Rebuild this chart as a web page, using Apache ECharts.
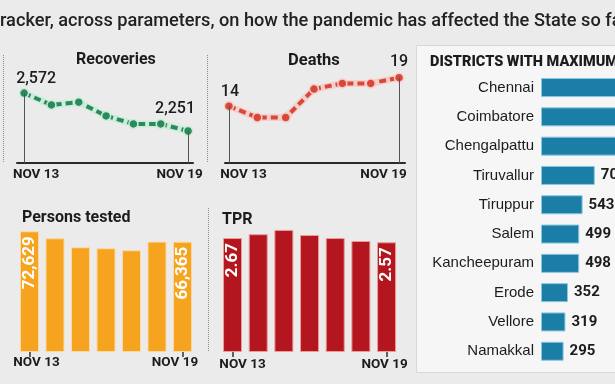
<!DOCTYPE html>
<html><head><meta charset="utf-8">
<script src="https://cdn.jsdelivr.net/npm/echarts@6/dist/echarts.min.js"></script>
<style>html,body{margin:0;padding:0;background:#ebebeb;overflow:hidden}#c{width:615px;height:384px;}</style>
</head><body><div id="c"></div>
<script>
// ---- data ----
const categories = ['NOV 13', 'NOV 14', 'NOV 15', 'NOV 16', 'NOV 17', 'NOV 18', 'NOV 19'];
const recoveries = [2572, 2472, 2495, 2379, 2311, 2311, 2251];
const deaths = [14, 12, 12, 17, 18, 18, 19];
const personsTested = [72629, 68400, 63000, 62400, 61200, 66400, 66365];
const tpr = [2.67, 2.76, 2.86, 2.74, 2.67, 2.60, 2.57];
const districts = ['Chennai', 'Coimbatore', 'Chengalpattu', 'Tiruvallur', 'Tiruppur', 'Salem', 'Kancheepuram', 'Erode', 'Vellore', 'Namakkal'];
const districtValues = [3900, 1050, 1000, 702, 543, 499, 498, 352, 319, 295];
const headerText = 'racker, across parameters, on how the pandemic has affected the State so far';
const titles = { rec: 'Recoveries', dea: 'Deaths', tst: 'Persons tested', tpr: 'TPR', dis: 'DISTRICTS WITH MAXIMUM CASES' };

// ---- styling ----
const NARROW = "Roboto, 'Liberation Sans', sans-serif";
const SANS = "'Liberation Sans', Arial, sans-serif";
const INK = '#1c1c1c';
const last = categories.length - 1;
const fmt = v => v.toLocaleString('en-US');

const chart = echarts.init(document.getElementById('c'), null, { renderer: 'canvas' });

function lineXAxis(grid, min, max, padL, padR) {
  return {
    type: 'value', gridIndex: grid, min: min, max: max,
    splitLine: { show: false }, axisTick: { show: false },
    axisLine: { show: true, onZero: false, lineStyle: { color: '#2a2a2a', width: 2 } },
    axisLabel: {
      customValues: [0, last], margin: 5,
      formatter: v => (v === 0 ? '{a|' + categories[v] + '}' : '{b|' + categories[v] + '}'),
      rich: {
        a: { fontFamily: NARROW, fontWeight: 'bold', fontSize: 13.5, color: INK, padding: [0, 0, 0, padL] },
        b: { fontFamily: NARROW, fontWeight: 'bold', fontSize: 13.5, color: INK, padding: [0, padR, 0, 0] }
      }
    }
  };
}

function lineSeries(values, idx, color, halo, yMin, lab) {
  return [{
    type: 'line', xAxisIndex: idx, yAxisIndex: idx, silent: true, z: 2,
    data: values.map((v, i) => [i, v]),
    symbol: 'none',
    lineStyle: { color: halo, width: 7, opacity: 0.9 }
  }, {
    type: 'line', xAxisIndex: idx, yAxisIndex: idx, silent: true, z: 3,
    data: values.map((v, i) => ({
      value: [i, v],
      label: (i === 0 || i === last) ? {
        show: true, position: 'top', fontFamily: NARROW, fontWeight: 500, fontSize: 16, color: INK,
        distance: i === 0 ? lab.d0 : lab.d1, offset: i === 0 ? [lab.o0, 0] : [lab.o1, 0],
        formatter: p => fmt(p.value[1])
      } : { show: false }
    })),
    symbol: 'circle', symbolSize: 9,
    itemStyle: { color: color, borderColor: halo, borderWidth: 1.5 },
    lineStyle: { color: color, width: 4, type: [7, 4] },
    markLine: {
      silent: true, symbol: 'none', label: { show: false },
      lineStyle: { color: '#555', width: 1, type: 'solid' },
      data: [
        [{ coord: [0, values[0]] }, { coord: [0, yMin] }],
        [{ coord: [last, values[last]] }, { coord: [last, yMin] }]
      ]
    }
  }];
}

function barXAxis(grid, padL, padR, margin) {
  return {
    type: 'category', gridIndex: grid, data: categories, boundaryGap: true,
    axisLine: { show: false },
    axisTick: { show: true, alignWithLabel: true, interval: i => i === 0 || i === last, length: 5, lineStyle: { color: '#333', width: 1.5 } },
    axisLabel: {
      interval: i => i === 0 || i === last, margin: margin,
      formatter: (v, i) => (i === 0 ? '{a|' + v + '}' : '{b|' + v + '}'),
      rich: {
        a: { fontFamily: NARROW, fontWeight: 'bold', fontSize: 13.5, color: INK, padding: [0, 0, 0, padL] },
        b: { fontFamily: NARROW, fontWeight: 'bold', fontSize: 13.5, color: INK, padding: [0, padR, 0, 0] }
      }
    }
  };
}

function barSeries(values, idx, color, edge, fmtFn) {
  return {
    type: 'bar', xAxisIndex: idx, yAxisIndex: idx, barWidth: 19, silent: true,
    itemStyle: { color: color, borderColor: edge, borderWidth: 1 },
    data: values.map((v, i) => ({
      value: v,
      label: (i === 0 || i === last) ? {
        show: true, position: 'insideTop', distance: 5, rotate: 90, align: 'right', verticalAlign: 'middle',
        fontFamily: NARROW, fontWeight: 'bold', fontSize: 17, color: '#ffffff',
        formatter: p => fmtFn(p.value)
      } : { show: false }
    }))
  };
}

const titleStyle = (size, w) => ({ fontFamily: NARROW, fontWeight: w || 'bold', fontSize: size, color: INK });
const grids = [
  { left: 17, top: 78, width: 176, height: 85 },
  { left: 225, top: 72, width: 180, height: 91 },
  { left: 16.75, top: 219, width: 178.5, height: 133 },
  { left: 219.7, top: 215.4, width: 179.7, height: 136.6 },
  { left: 541, top: 72.9, width: 400, height: 293 }
].map(g => Object.assign(g, { outerBoundsMode: 'none', containLabel: false }));

const option = {
  backgroundColor: '#ebebeb',
  animation: false,
  title: [
    { text: headerText, left: 0, top: 12, padding: 0, textStyle: { fontFamily: NARROW, fontWeight: 500, fontSize: 18.2, color: '#222' } },
    { text: titles.rec, left: 76, top: 52, padding: 0, textStyle: titleStyle(16) },
    { text: titles.dea, left: 288, top: 52, padding: 0, textStyle: titleStyle(16.5) },
    { text: titles.tst, left: 22, top: 210, padding: 0, textStyle: titleStyle(16) },
    { text: titles.tpr, left: 222, top: 212, padding: 0, textStyle: titleStyle(16) },
    { text: titles.dis, left: 430, top: 55, padding: 0, textStyle: titleStyle(14.5, 900) }
  ],
  graphic: [
    { type: 'rect', z: -10, shape: { x: 416.5, y: 45.5, width: 205, height: 327 }, style: { fill: '#f6f6f6', stroke: '#d8d8d8', lineWidth: 1 } },
    { type: 'line', z: -10, shape: { x1: 3.5, y1: 55, x2: 3.5, y2: 162 }, style: { stroke: '#8a8a8a', lineWidth: 1, lineDash: [1, 1] } },
    { type: 'line', z: -10, shape: { x1: 207.5, y1: 55, x2: 207.5, y2: 162 }, style: { stroke: '#8a8a8a', lineWidth: 1, lineDash: [1, 1] } },
    { type: 'line', z: -10, shape: { x1: 208.5, y1: 208, x2: 208.5, y2: 352 }, style: { stroke: '#8a8a8a', lineWidth: 1, lineDash: [1, 1] } }
  ],
  grid: grids,
  xAxis: [
    lineXAxis(0, -0.26, 6.18, 24, 17),
    lineXAxis(1, -0.14, 6.21, 29, 31),
    barXAxis(2, 14, 15, 4),
    barXAxis(3, 20, 4, 6),
    { type: 'value', gridIndex: 4, min: 0, max: 5220, show: false }
  ],
  yAxis: [
    { type: 'value', gridIndex: 0, min: 1980, max: 2700, show: false },
    { type: 'value', gridIndex: 1, min: 4, max: 20, show: false },
    { type: 'value', gridIndex: 2, min: 0, max: 80000, show: false },
    { type: 'value', gridIndex: 3, min: 0, max: 3.2, show: false },
    {
      type: 'category', gridIndex: 4, data: districts, inverse: true,
      axisLine: { show: false }, axisTick: { show: false },
      axisLabel: { margin: 7, fontFamily: SANS, fontSize: 15, color: INK }
    }
  ],
  series: [
    ...lineSeries(recoveries, 0, '#2b8a5c', '#c9ecd9', 1980, { d0: 1, d1: 9, o0: 12, o1: -13 }),
    ...lineSeries(deaths, 1, '#d9473b', '#f6cdc6', 4, { d0: 1, d1: 2, o0: 1, o1: 0 }),
    barSeries(personsTested, 2, '#f6a31f', '#fcd9a2', fmt),
    barSeries(tpr, 3, '#b3161f', '#ec9a9a', v => v.toFixed(2)),
    {
      type: 'bar', xAxisIndex: 4, yAxisIndex: 4, barWidth: 19, silent: true,
      itemStyle: { color: '#1b7ea7', borderColor: '#8cc6de', borderWidth: 1 },
      label: { show: true, position: 'right', distance: 6, fontFamily: NARROW, fontWeight: 'bold', fontSize: 15, color: INK, formatter: p => fmt(p.value) },
      data: districtValues
    }
  ]
};
chart.setOption(option);
</script>
</body></html>
